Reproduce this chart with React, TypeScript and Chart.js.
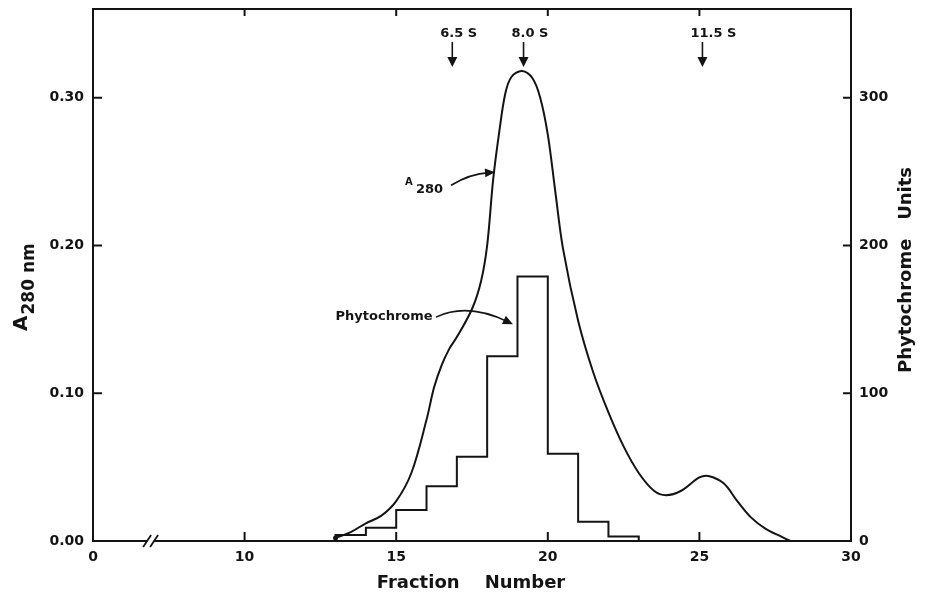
import React, { useEffect, useRef } from 'react';
import { Chart, registerables } from 'chart.js';

Chart.register(...registerables);

const INK = '#141414';
const FONT = "'DejaVu Sans', sans-serif";

// A280 absorbance trace (fraction number, absorbance)
const a280Fractions = [13.0, 13.5, 14.0, 14.5, 15.0, 15.5, 16.0, 16.25, 16.5, 16.75, 17.0, 17.5, 17.8, 18.0, 18.2, 18.4, 18.6, 18.8, 19.15, 19.5, 19.75, 20.0, 20.25, 20.5, 21.0, 21.5, 22.0, 22.5, 23.0, 23.5, 23.9, 24.4, 25.0, 25.3, 25.8, 26.25, 26.7, 27.2, 27.7, 28.0];
const a280Values = [0.002, 0.006, 0.012, 0.017, 0.027, 0.046, 0.082, 0.104, 0.119, 0.130, 0.138, 0.157, 0.176, 0.200, 0.245, 0.277, 0.303, 0.314, 0.318, 0.313, 0.300, 0.275, 0.236, 0.198, 0.149, 0.114, 0.087, 0.064, 0.046, 0.034, 0.031, 0.034, 0.043, 0.044, 0.039, 0.027, 0.016, 0.008, 0.003, 0.0];

// Phytochrome histogram: each bin spans [start, start + 1]
const phytoBinStarts = [13, 14, 15, 16, 17, 18, 19, 20, 21, 22];
const phytoUnits = [4, 9, 21, 37, 57, 125, 179, 59, 13, 3];

// Axes
const xTickValues = [5, 10, 15, 20, 25, 30];
const xTickLabels = ['0', '10', '15', '20', '25', '30'];
const xTickMarks = [10, 15, 20, 25];
const leftTickValues = [0, 0.1, 0.2, 0.3];
const leftTickLabels = ['0.00', '0.10', '0.20', '0.30'];
const rightTickValues = [0, 100, 200, 300];
const rightTickLabels = ['0', '100', '200', '300'];
const axisBreakFraction = 6.9;

// Sedimentation markers
const markerFractions = [16.85, 19.2, 25.1];
const markerLabels = ['6.5 S', '8.0 S', '11.5 S'];

// Annotation anchors (data coordinates: fraction, A280)
const A280_LABEL = { x: 15.29, y: 0.241 };
const A280_ARROW = [{ x: 16.81, y: 0.2407 }, { x: 17.43, y: 0.2485 }, { x: 18.26, y: 0.2495 }];
const PHYTO_LABEL = { x: 14.6, y: 0.1515 };
const PHYTO_ARROW = [{ x: 16.31, y: 0.1515 }, { x: 17.34, y: 0.1616 }, { x: 18.85, y: 0.1467 }];

function curvedArrow(ctx: CanvasRenderingContext2D, p0: any, c: any, p2: any) {
  const ang = Math.atan2(p2.y - c.y, p2.x - c.x);
  const L = 10, W = 4.5;
  ctx.beginPath();
  ctx.moveTo(p0.x, p0.y);
  ctx.quadraticCurveTo(c.x, c.y, p2.x - 6 * Math.cos(ang), p2.y - 6 * Math.sin(ang));
  ctx.stroke();
  ctx.beginPath();
  ctx.moveTo(p2.x, p2.y);
  ctx.lineTo(p2.x - L * Math.cos(ang) + W * Math.sin(ang), p2.y - L * Math.sin(ang) - W * Math.cos(ang));
  ctx.lineTo(p2.x - L * Math.cos(ang) - W * Math.sin(ang), p2.y - L * Math.sin(ang) + W * Math.cos(ang));
  ctx.closePath();
  ctx.fill();
}

const overlay = {
  id: 'overlay',
  afterDraw(chart: any) {
    const ctx: CanvasRenderingContext2D = chart.ctx;
    const { left, right, top, bottom } = chart.chartArea;
    const xs = chart.scales.x, ys = chart.scales.y, yr = chart.scales.y1;
    const P = (p: any) => ({ x: xs.getPixelForValue(p.x), y: ys.getPixelForValue(p.y) });
    ctx.save();
    ctx.strokeStyle = INK;
    ctx.fillStyle = INK;
    ctx.lineWidth = 2;
    ctx.lineCap = 'butt';
    // frame
    ctx.strokeRect(left, top, right - left, bottom - top);
    // inward tick marks
    ctx.beginPath();
    xTickMarks.forEach((v) => {
      const px = xs.getPixelForValue(v);
      ctx.moveTo(px, bottom); ctx.lineTo(px, bottom - 9);
      ctx.moveTo(px, top); ctx.lineTo(px, top + 7);
    });
    leftTickValues.slice(1).forEach((v) => {
      const py = ys.getPixelForValue(v);
      ctx.moveTo(left, py); ctx.lineTo(left + 9, py);
    });
    rightTickValues.slice(1).forEach((v) => {
      const py = yr.getPixelForValue(v);
      ctx.moveTo(right, py); ctx.lineTo(right - 8, py);
    });
    ctx.stroke();
    // axis break
    const bx = xs.getPixelForValue(axisBreakFraction);
    ctx.fillStyle = '#ffffff';
    ctx.fillRect(bx - 3, bottom - 3, 6, 6);
    ctx.fillStyle = INK;
    ctx.lineWidth = 1.8;
    ctx.beginPath();
    [-3.5, 3.5].forEach((o) => {
      ctx.moveTo(bx + o - 4, bottom + 6);
      ctx.lineTo(bx + o + 4, bottom - 6);
    });
    ctx.stroke();

    // sedimentation markers
    ctx.lineWidth = 1.6;
    ctx.font = `bold 13px ${FONT}`;
    ctx.textAlign = 'left';
    ctx.textBaseline = 'middle';
    markerFractions.forEach((f, i) => {
      const px = xs.getPixelForValue(f);
      ctx.fillText(markerLabels[i], px - 12, top + 25);
      ctx.beginPath();
      ctx.moveTo(px, top + 33); ctx.lineTo(px, top + 50);
      ctx.stroke();
      ctx.beginPath();
      ctx.moveTo(px - 5, top + 48); ctx.lineTo(px + 5, top + 48); ctx.lineTo(px, top + 58);
      ctx.closePath(); ctx.fill();
    });

    // A280 annotation
    const al = P(A280_LABEL);
    ctx.textBaseline = 'alphabetic';
    ctx.font = `bold 10px ${FONT}`;
    ctx.fillText('A', al.x, al.y);
    ctx.font = `bold 13px ${FONT}`;
    ctx.fillText('280', al.x + 11, al.y + 8);
    ctx.lineWidth = 1.6;
    curvedArrow(ctx, P(A280_ARROW[0]), P(A280_ARROW[1]), P(A280_ARROW[2]));

    // Phytochrome annotation
    const pl = P(PHYTO_LABEL);
    ctx.textAlign = 'center';
    ctx.textBaseline = 'middle';
    ctx.font = `bold 13px ${FONT}`;
    ctx.fillText('Phytochrome', pl.x, pl.y);
    curvedArrow(ctx, P(PHYTO_ARROW[0]), P(PHYTO_ARROW[1]), P(PHYTO_ARROW[2]));

    // x-axis title
    ctx.font = `bold 18px ${FONT}`;
    ctx.textAlign = 'center';
    ctx.textBaseline = 'middle';
    ctx.fillText('Fraction    Number', (left + right) / 2 - 1, 583);

    // left axis title  A280 nm
    ctx.save();
    ctx.translate(27, 331);
    ctx.rotate(-Math.PI / 2);
    ctx.textAlign = 'left';
    ctx.textBaseline = 'alphabetic';
    ctx.font = `bold 20px ${FONT}`;
    ctx.fillText('A', 0, 0);
    const aw = ctx.measureText('A').width;
    ctx.font = `bold 17px ${FONT}`;
    ctx.fillText('280 nm', aw + 1, 7);
    ctx.restore();

    // right axis title
    ctx.save();
    ctx.translate(911, 270);
    ctx.rotate(-Math.PI / 2);
    ctx.textAlign = 'center';
    ctx.textBaseline = 'alphabetic';
    ctx.font = `bold 18px ${FONT}`;
    ctx.fillText('Phytochrome   Units', 0, 0);
    ctx.restore();

    ctx.restore();
  },
};

export default function App() {
  const ref = useRef<HTMLCanvasElement | null>(null);
  useEffect(() => {
    if (!ref.current) return;
    const tickFont = { family: FONT, size: 14, weight: 'bold' as const };
    const histData = [
      { x: phytoBinStarts[0], y: 0 },
      ...phytoBinStarts.map((f, i) => ({ x: f, y: phytoUnits[i] })),
      { x: phytoBinStarts[phytoBinStarts.length - 1] + 1, y: 0 },
    ];
    const noVPad = (s: any) => { s.paddingTop = 0; s.paddingBottom = 0; };
    const chart = new Chart(ref.current, {
      type: 'line',
      data: {
        datasets: [
          {
            label: 'A280',
            data: a280Fractions.map((f, i) => ({ x: f, y: a280Values[i] })),
            yAxisID: 'y',
            borderColor: INK,
            borderWidth: 2,
            pointRadius: (c: any) => (c.dataIndex === 0 ? 2.5 : 0),
            pointBackgroundColor: INK,
            pointBorderWidth: 0,
            tension: 0.35,
            fill: false,
          } as any,
          {
            label: 'Phytochrome',
            data: histData,
            yAxisID: 'y1',
            stepped: 'before',
            borderColor: INK,
            borderWidth: 2,
            pointRadius: 0,
            fill: false,
          } as any,
        ],
      },
      options: {
        responsive: false,
        maintainAspectRatio: false,
        animation: false,
        layout: { padding: { top: 9, left: 0, right: 0, bottom: 0 } },
        plugins: { legend: { display: false }, tooltip: { enabled: false }, title: { display: false } },
        scales: {
          x: {
            type: 'linear',
            position: 'bottom',
            min: 5,
            max: 30,
            afterBuildTicks: (s: any) => { s.ticks = xTickValues.map((v) => ({ value: v })); },
            afterFit: (s: any) => { s.height = 52; s.paddingLeft = 0; s.paddingRight = 0; },
            grid: { display: false, drawTicks: false },
            border: { display: false },
            ticks: {
              autoSkip: false, maxRotation: 0, minRotation: 0, padding: 8, color: INK, font: tickFont,
              callback: (v: any) => { const i = xTickValues.indexOf(Number(v)); return i >= 0 ? xTickLabels[i] : ''; },
            },
          },
          y: {
            type: 'linear',
            position: 'left',
            min: 0,
            max: 0.36,
            afterBuildTicks: (s: any) => { s.ticks = leftTickValues.map((v) => ({ value: v })); },
            afterFit: (s: any) => { s.width = 93; noVPad(s); },
            grid: { display: false, drawTicks: false },
            border: { display: false },
            ticks: {
              padding: 9, color: INK, font: tickFont,
              callback: (v: any) => { const i = leftTickValues.indexOf(Number(v)); return i >= 0 ? leftTickLabels[i] : ''; },
            },
          },
          y1: {
            type: 'linear',
            position: 'right',
            min: 0,
            max: 360,
            afterBuildTicks: (s: any) => { s.ticks = rightTickValues.map((v) => ({ value: v })); },
            afterFit: (s: any) => { s.width = 74; noVPad(s); },
            grid: { display: false, drawTicks: false },
            border: { display: false },
            ticks: {
              padding: 8, color: INK, font: tickFont,
              callback: (v: any) => { const i = rightTickValues.indexOf(Number(v)); return i >= 0 ? rightTickLabels[i] : ''; },
            },
          },
        },
      } as any,
      plugins: [overlay],
    });
    return () => chart.destroy();
  }, []);
  return (
    <div style={{ position: 'absolute', left: 0, top: 0, width: 925, height: 593, background: '#fff' }}>
      <canvas ref={ref} width={925} height={593} style={{ display: 'block' }} />
    </div>
  );
}
